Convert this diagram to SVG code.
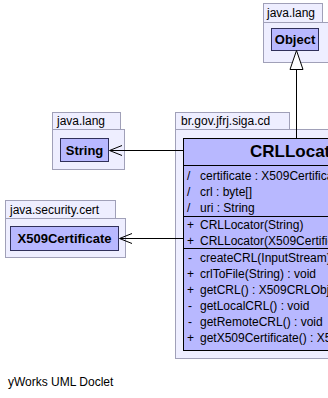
<svg xmlns="http://www.w3.org/2000/svg" width="328" height="398" viewBox="0 0 328 398">
  <style>
    .pkg { fill: #eeeeff; stroke: #a0a0b8; stroke-width: 1; }
    .cls { fill: #b8b8ff; stroke: #000; stroke-width: 1; }
    .ref { fill: #b8b8ff; stroke: #30305a; stroke-width: 1; }
    .plabel { font-family: "Liberation Sans", Arial, sans-serif; font-size: 12px; fill: #000; }
    .cname { font-family: "Liberation Sans", Arial, sans-serif; font-size: 13px; font-weight: bold; fill: #000; text-anchor: middle; }
    .title { font-family: "Liberation Sans", Arial, sans-serif; font-size: 17px; font-weight: bold; fill: #000; }
    .member { font-family: "Liberation Sans", Arial, sans-serif; font-size: 12px; fill: #000; }
    .sep { stroke: #000; stroke-width: 1; }
    .edge { stroke: #000; stroke-width: 1; fill: none; }
  </style>
  <rect width="328" height="398" fill="#ffffff"/>

  <!-- java.lang : Object -->
  <g id="pkg-java-lang-object">
    <rect class="pkg" x="263.5" y="3.5" width="59" height="19"/>
    <rect class="pkg" x="263.5" y="22.5" width="70" height="40"/>
    <text class="plabel" x="267" y="17">java.lang</text>
    <g id="Object">
      <rect class="ref" x="271.5" y="28.5" width="47" height="22"/>
      <text class="cname" x="295" y="44">Object</text>
    </g>
  </g>

  <!-- java.lang : String -->
  <g id="pkg-java-lang-string">
    <rect class="pkg" x="52.5" y="112.5" width="68" height="17"/>
    <rect class="pkg" x="52.5" y="129.5" width="72" height="40"/>
    <text class="plabel" x="57" y="125">java.lang</text>
    <g id="String">
      <rect class="ref" x="60.5" y="138.5" width="48" height="23"/>
      <text class="cname" x="84.5" y="155">String</text>
    </g>
  </g>

  <!-- java.security.cert : X509Certificate -->
  <g id="pkg-java-security-cert">
    <rect class="pkg" x="5.5" y="200.5" width="110" height="18"/>
    <rect class="pkg" x="5.5" y="218.5" width="120" height="39"/>
    <text class="plabel" x="10" y="214">java.security.cert</text>
    <g id="X509Certificate">
      <rect class="ref" x="10.5" y="226.5" width="108" height="24"/>
      <text class="cname" x="64.5" y="243">X509Certificate</text>
    </g>
  </g>

  <!-- br.gov.jfrj.siga.cd : CRLLocator -->
  <g id="pkg-br-gov-jfrj-siga-cd">
    <rect class="pkg" x="175.5" y="112.5" width="114" height="17"/>
    <rect class="pkg" x="175.5" y="129.5" width="170" height="229"/>
    <text class="plabel" x="181" y="125">br.gov.jfrj.siga.cd</text>
    <g id="CRLLocator">
      <rect class="cls" x="183.5" y="138.5" width="170" height="212"/>
      <text class="title" x="250" y="157">CRLLocator</text>
      <line class="sep" x1="183.5" y1="165.5" x2="340" y2="165.5"/>
      <g class="member">
        <text x="187" y="180">/</text><text x="200" y="180">certificate : X509Certificate</text>
        <text x="187" y="196">/</text><text x="200" y="196">crl : byte[]</text>
        <text x="187" y="212">/</text><text x="200" y="212">uri : String</text>
      </g>
      <line class="sep" x1="183.5" y1="216.5" x2="340" y2="216.5"/>
      <g class="member">
        <text x="187" y="229">+</text><text x="200" y="229">CRLLocator(String)</text>
        <text x="187" y="245">+</text><text x="200" y="245">CRLLocator(X509Certificate)</text>
      </g>
      <line class="sep" x1="183.5" y1="248.5" x2="340" y2="248.5"/>
      <g class="member">
        <text x="188" y="262">-</text><text x="200" y="262">createCRL(InputStream)</text>
        <text x="187" y="278">+</text><text x="200" y="278">crlToFile(String) : void</text>
        <text x="187" y="294">+</text><text x="200" y="294">getCRL() : X509CRLObject</text>
        <text x="188" y="310">-</text><text x="200" y="310">getLocalCRL() : void</text>
        <text x="188" y="326">-</text><text x="200" y="326">getRemoteCRL() : void</text>
        <text x="187" y="342">+</text><text x="200" y="342">getX509Certificate() : X509Certificate</text>
      </g>
    </g>
  </g>

  <!-- connectors -->
  <g id="connectors">
    <!-- generalization CRLLocator -> Object -->
    <line class="edge" x1="296.5" y1="138" x2="296.5" y2="69"/>
    <polygon points="296.5,50.5 290,69.5 303,69.5" fill="#ffffff" stroke="#000" stroke-width="1"/>
    <!-- dependency CRLLocator -> String -->
    <line class="edge" x1="183" y1="150.5" x2="110" y2="150.5"/>
    <polyline class="edge" points="122,145.5 109.5,150.5 122,155.5"/>
    <!-- dependency CRLLocator -> X509Certificate -->
    <line class="edge" x1="183" y1="238.5" x2="120" y2="238.5"/>
    <polyline class="edge" points="132,233.5 119.5,238.5 132,243.5"/>
  </g>

  <text class="plabel" x="8" y="386" font-size="11px">yWorks UML Doclet</text>
</svg>
